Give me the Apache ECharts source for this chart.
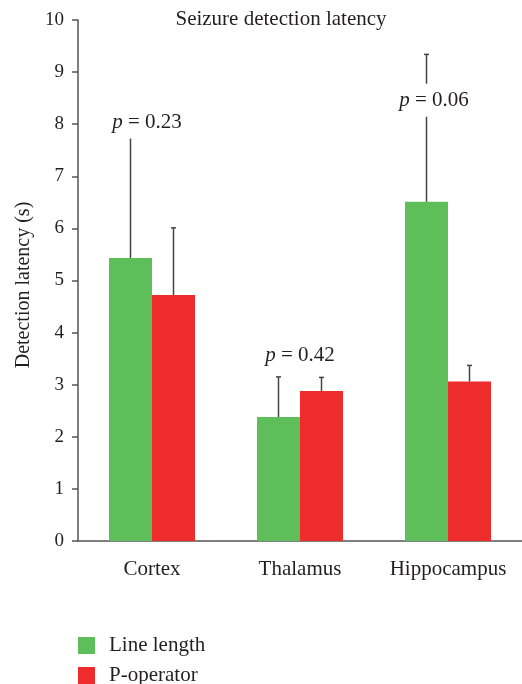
<!DOCTYPE html>
<html>
<head>
<meta charset="utf-8">
<script src="https://cdn.jsdelivr.net/npm/echarts@6/dist/echarts.min.js"></script>
<style>html,body{margin:0;padding:0;background:#fff}#c{width:522px;height:684px}</style>
</head>
<body>
<div id="c"></div>
<script>
var categories = ['Cortex', 'Thalamus', 'Hippocampus'];
var lineLength = [5.43, 2.38, 6.51];
var pOperator = [4.72, 2.88, 3.06];
var lineLengthErrTop = [7.82, 3.15, 9.34];
var pOperatorErrTop = [6.01, 3.14, 3.37];
var pValues = ['0.23', '0.42', '0.06'];
var pLabelY = [8.04, 3.57, 8.46];
var yTicks = [0, 1, 2, 3, 4, 5, 6, 7, 8, 9, 10];

var FONT = '"Liberation Serif", "DejaVu Serif", serif';
var TXT = '#231f20';
var BAR_W = 43;
var GREEN = '#5ebe5a';
var RED = '#ee2c2c';

function errSeries(name, tops, base, side) {
  return {
    type: 'custom',
    name: name + ' err',
    z: 1,
    silent: true,
    data: tops.map(function (t, i) { return [i, base[i], t]; }),
    renderItem: function (params, api) {
      var b = api.coord([api.value(0), api.value(1)]);
      var t = api.coord([api.value(0), api.value(2)]);
      var x = b[0] + side * BAR_W / 2;
      return {
        type: 'group',
        children: [
          { type: 'line', shape: { x1: x, y1: b[1], x2: x, y2: t[1] }, style: { stroke: '#444', lineWidth: 1.5 } },
          { type: 'line', shape: { x1: x - 2.5, y1: t[1], x2: x + 2.5, y2: t[1] }, style: { stroke: '#444', lineWidth: 1.5 } }
        ]
      };
    }
  };
}

var labelOffsets = [-5, 0, -14];

var chart = echarts.init(document.getElementById('c'));
chart.setOption({
  animation: false,
  backgroundColor: '#fff',
  title: {
    text: 'Seizure detection latency',
    left: 281, top: 9, textAlign: 'center', padding: 0,
    textStyle: { fontFamily: FONT, fontSize: 21, fontWeight: 'normal', color: TXT }
  },
  legend: {
    orient: 'vertical', left: 78, bottom: -2, padding: 0,
    itemWidth: 17, itemHeight: 17, itemGap: 9,
    icon: 'rect',
    data: ['Line length', 'P-operator'],
    textStyle: { fontFamily: FONT, fontSize: 21, color: TXT, padding: [0, 0, 0, 9] }
  },
  grid: { left: 78, right: 0, top: 20, bottom: 143, containLabel: false },
  xAxis: {
    type: 'category',
    data: categories,
    axisLine: { lineStyle: { color: '#555', width: 1.5 } },
    axisTick: { length: 6, lineStyle: { color: '#555', width: 1.5 } },
    axisLabel: { fontFamily: FONT, fontSize: 21, color: TXT, margin: 18, interval: 0, hideOverlap: false }
  },
  yAxis: {
    type: 'value', min: 0, max: 10, interval: 1,
    name: 'Detection latency (s)', nameLocation: 'middle', nameGap: 44,
    nameTextStyle: { fontFamily: FONT, fontSize: 20, color: TXT, padding: [0, 9, 0, 0] },
    axisLine: { show: true, lineStyle: { color: '#555', width: 1.5 } },
    axisTick: { show: true, length: 6, lineStyle: { color: '#555', width: 1.5 } },
    splitLine: { show: false },
    axisLabel: {
      fontFamily: FONT, fontSize: 19, color: TXT, margin: 14,
      customValues: yTicks
    }
  },
  series: [
    { type: 'bar', name: 'Line length', data: lineLength, barWidth: BAR_W, barGap: '0%', itemStyle: { color: GREEN }, z: 2 },
    { type: 'bar', name: 'P-operator', data: pOperator, barWidth: BAR_W, barGap: '0%', itemStyle: { color: RED }, z: 2 },
    errSeries('Line length', lineLengthErrTop, lineLength, -1),
    errSeries('P-operator', pOperatorErrTop, pOperator, 1),
    {
      type: 'custom',
      name: 'p labels',
      z: 5,
      silent: true,
      data: pValues.map(function (p, i) { return [i, pLabelY[i]]; }),
      renderItem: function (params, api) {
        var i = params.dataIndex;
        var c = api.coord([api.value(0), api.value(1)]);
        return {
          type: 'text',
          x: c[0] + labelOffsets[i], y: c[1],
          style: {
            text: '{i|p} = ' + pValues[i],
            align: 'center', verticalAlign: 'middle',
            fontFamily: FONT, fontSize: 21, fill: TXT,
            backgroundColor: '#fff', padding: [6, 3],
            rich: { i: { fontStyle: 'italic', fontFamily: FONT, fontSize: 21, fill: TXT } }
          }
        };
      }
    }
  ]
});
</script>
</body>
</html>
